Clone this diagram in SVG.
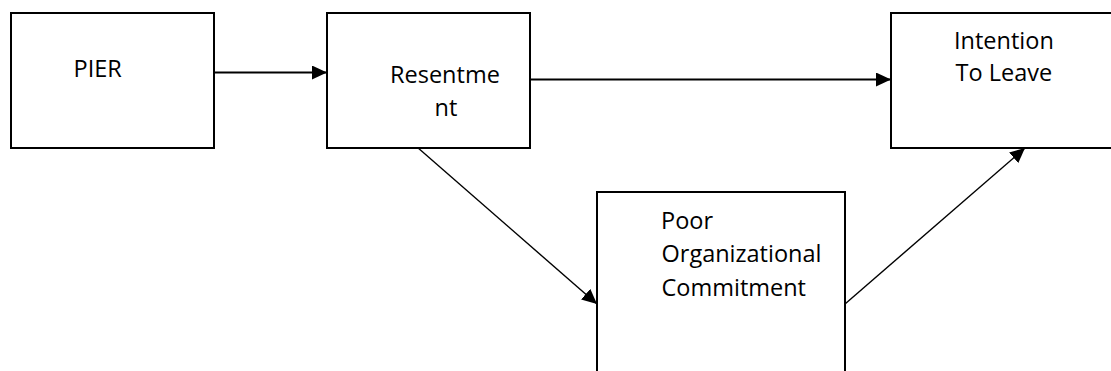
<svg xmlns="http://www.w3.org/2000/svg" width="1111" height="371" viewBox="0 0 1111 371">
  <style>
    .box { fill: #ffffff; stroke: #000000; stroke-width: 2; }
    .lbl { font-family: "Open Sans", "Noto Sans", sans-serif; font-size: 23.5px; fill: #000000; }
    .conn { fill: none; stroke: #000000; stroke-width: 2; }
    .diag { fill: none; stroke: #000000; stroke-width: 1.4; }
  </style>
  <defs>
    <marker id="arrow" markerUnits="userSpaceOnUse" markerWidth="16" markerHeight="14" refX="15" refY="7" orient="auto">
      <path d="M0,0 L15,7 L0,14 z" fill="#000000"/>
    </marker>
  </defs>
  <rect width="1111" height="371" fill="#ffffff"/>
  <g id="connectors">
    <line class="conn" x1="214" y1="72.5" x2="327" y2="72.5" marker-end="url(#arrow)"/>
    <line class="conn" x1="530" y1="79.5" x2="891" y2="79.5" marker-end="url(#arrow)"/>
    <line class="diag" x1="417" y1="147" x2="597" y2="304" marker-end="url(#arrow)"/>
    <line class="diag" x1="845" y1="304" x2="1025" y2="148" marker-end="url(#arrow)"/>
  </g>
  <g id="node-pier">
    <rect class="box" x="11" y="13" width="203" height="135"/>
    <text class="lbl" x="73.5" y="77">PIER</text>
  </g>
  <g id="node-resentment">
    <rect class="box" x="327" y="13" width="203" height="135"/>
    <text class="lbl" x="390" y="83">Resentme</text>
    <text class="lbl" x="434.5" y="116">nt</text>
  </g>
  <g id="node-intention">
    <rect class="box" x="891" y="13" width="232" height="135"/>
    <text class="lbl" x="954" y="49">Intention</text>
    <text class="lbl" x="955.5" y="81">To Leave</text>
  </g>
  <g id="node-poor">
    <rect class="box" x="597" y="192" width="248" height="200"/>
    <text class="lbl" x="661" y="229">Poor</text>
    <text class="lbl" x="661.5" y="262">Organizational</text>
    <text class="lbl" x="661.5" y="296">Commitment</text>
  </g>
</svg>
